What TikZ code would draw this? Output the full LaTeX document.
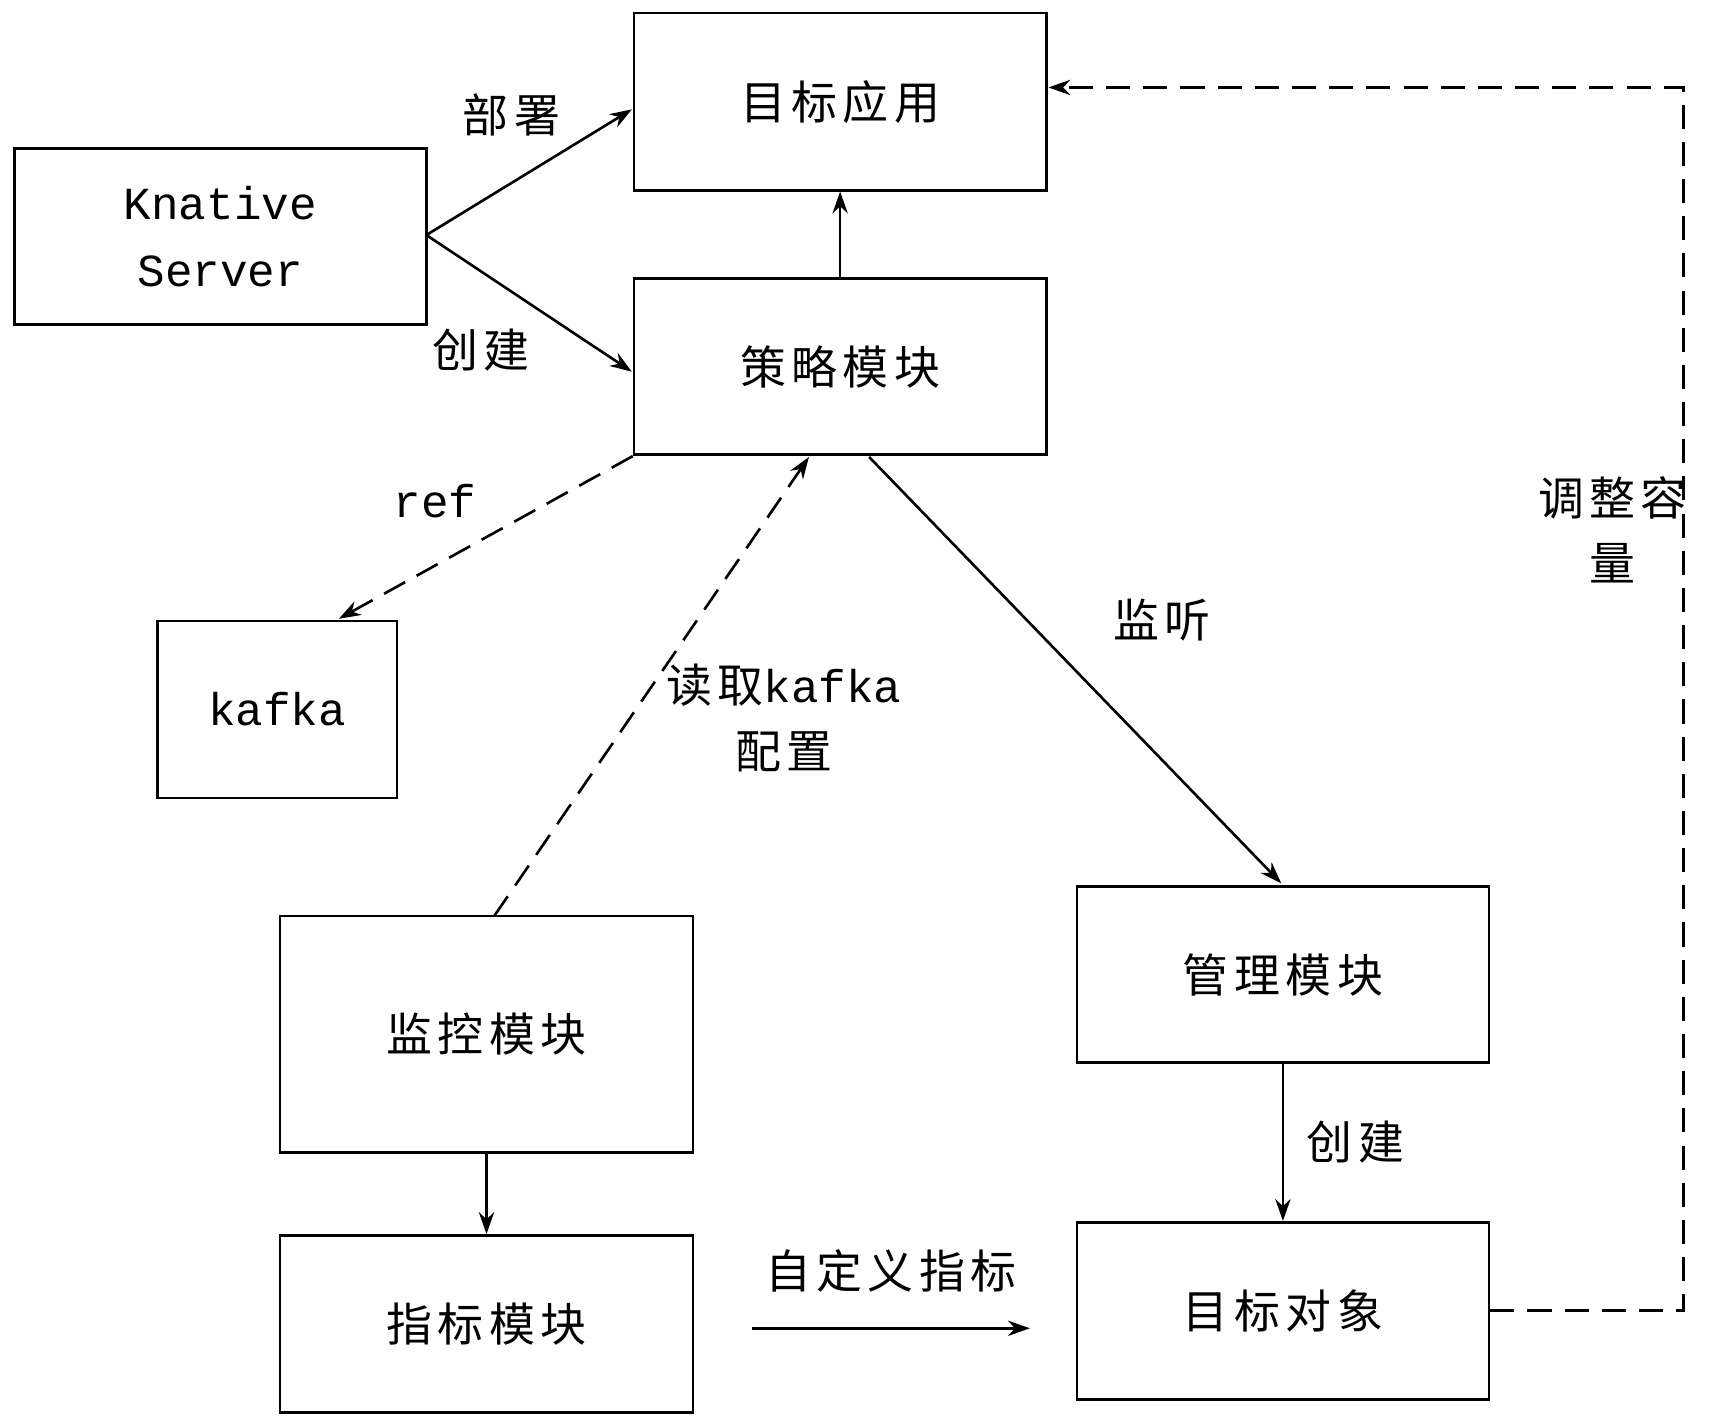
\documentclass[tikz,border=0pt]{standalone}
\usepackage{fontspec}
\setmainfont{Noto Sans CJK SC}[LetterSpace=12]
\newfontfamily\lat{Liberation Mono}
\usetikzlibrary{arrows.meta}
\begin{document}
\begin{tikzpicture}[x=0.5pt,y=-0.5pt,
 box/.style={draw,line width=1.2pt,inner sep=0pt},
 lab/.style={font=\fontsize{21}{24}\selectfont},
 arr/.style={-{Stealth[length=10pt,width=7pt]},line width=1.2pt},
 dsh/.style={dash pattern=on 11pt off 6pt}]
\useasboundingbox (0,0) rectangle (1566,1305);
\newcommand\bx[6]{\node[box,minimum width=#4*0.5pt-#2*0.5pt,minimum height=#5*0.5pt-#3*0.5pt] (#1) at ({(#2+#4)/2},{(#3+#5)/2}) {#6};}
\bx{app}{580}{12}{957}{174}{\fontsize{21}{24}\selectfont 目标应用}
\bx{kn}{13}{136}{390}{297}{\parbox{100pt}{\centering\lat\fontsize{21}{31}\selectfont Knative\\Server}}
\bx{pol}{580}{255}{957}{416}{\fontsize{21}{24}\selectfont 策略模块}
\bx{kaf}{144}{568}{363}{730}{\lat\fontsize{21}{24}\selectfont kafka}
\bx{mon}{256}{838}{634}{1054}{\fontsize{21}{24}\selectfont 监控模块}
\bx{met}{256}{1130}{634}{1292}{\fontsize{21}{24}\selectfont 指标模块}
\bx{mgr}{985}{811}{1362}{972}{\fontsize{21}{24}\selectfont 管理模块}
\bx{obj}{985}{1118}{1362}{1280}{\fontsize{21}{24}\selectfont 目标对象}
\coordinate (k) at (390,215);
\draw[arr] (k) -- (578,100);
\draw[arr] (k) -- (578,340);
\node[lab] (l1) at (468,105) {部署};
\node[lab] (l2) at (440,320) {创建};
\draw[arr] (pol.north) -- (app.south);
\draw[arr,dsh] (pol.south west) -- (310,566);
\node[lab] (l3) at (398,458) {\lat ref};
\draw[arr,dsh] (452,838) -- (740,418);
\node[lab] (l4) at (717,627) {读取{\lat kafka}};
\node[lab] (l5) at (717,688) {配置};
\draw[arr] (795,418) -- (1172,808);
\node[lab] (l6) at (1063,567) {监听};
\draw[arr] (mon.south) -- (met.north);
\draw[arr] (mgr.south) -- (obj.north);
\node[lab] (l7) at (1240,1045) {创建};
\coordinate (f1) at (688,1215); \coordinate (f2) at (942,1215);
\draw[arr] (f1) -- (f2);
\node[lab] (l8) at (815,1163) {自定义指标};
\coordinate (c2) at (1540,80);
\draw[arr,dsh] (obj.east) -| (c2) -- (959,80);
\node[lab] (l9) at (1475,455) {调整容};
\node[lab] (l10) at (1475,515) {量};
\end{tikzpicture}
\end{document}
